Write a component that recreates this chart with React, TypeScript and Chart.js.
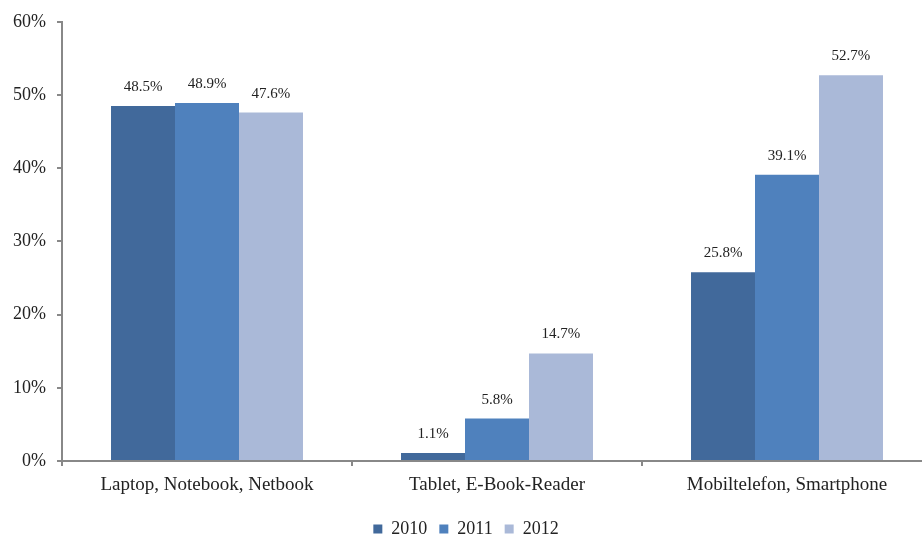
import React, { useEffect, useRef } from "react";
import { Chart, registerables } from "chart.js";

Chart.register(...registerables);

const categories = ["Laptop, Notebook, Netbook", "Tablet, E-Book-Reader", "Mobiltelefon, Smartphone"];
const seriesNames = ["2010", "2011", "2012"];
const values2010 = [48.5, 1.1, 25.8];
const values2011 = [48.9, 5.8, 39.1];
const values2012 = [47.6, 14.7, 52.7];
const colors = ["#41699b", "#4f81bd", "#aab9d8"];
const yTicks = [0, 10, 20, 30, 40, 50, 60];

const FONT = "'Liberation Serif', 'DejaVu Serif', serif";

const valueLabels = {
  id: "valueLabels",
  afterDatasetsDraw(chart: any) {
    const ctx = chart.ctx;
    ctx.save();
    ctx.font = `15px ${FONT}`;
    ctx.fillStyle = "#222";
    ctx.textAlign = "center";
    ctx.textBaseline = "alphabetic";
    chart.data.datasets.forEach((ds: any, i: number) => {
      const meta = chart.getDatasetMeta(i);
      meta.data.forEach((bar: any, j: number) => {
        ctx.fillText(ds.data[j].toFixed(1) + "%", bar.x, bar.y - 15);
      });
    });
    ctx.restore();
  },
};

export default function App() {
  const ref = useRef<HTMLCanvasElement>(null);
  useEffect(() => {
    const chart = new Chart(ref.current!, {
      type: "bar",
      data: {
        labels: categories,
        datasets: [values2010, values2011, values2012].map((d, i) => ({
          label: seriesNames[i],
          data: d,
          backgroundColor: colors[i],
          borderWidth: 0,
          categoryPercentage: 0.662,
          barPercentage: 1,
        })),
      },
      options: {
        animation: false,
        responsive: true,
        maintainAspectRatio: false,
        layout: { padding: { top: 20, right: 2, left: 0, bottom: 0 } },
        plugins: {
          tooltip: { enabled: false },
          legend: {
            position: "bottom",
            labels: {
              boxWidth: 9,
              boxHeight: 9,
              padding: 12,
              color: "#222",
              font: { family: FONT, size: 18 },
            },
          },
        },
        scales: {
          x: {
            grid: {
              display: true,
              drawOnChartArea: false,
              drawTicks: true,
              tickLength: 5,
              color: "#888",
              lineWidth: 2,
            },
            border: { color: "#888", width: 2 },
            ticks: { color: "#222", font: { family: FONT, size: 19 }, padding: 8, maxRotation: 0 },
            afterFit: (s: any) => { s.height = 47; },
          },
          y: {
            min: 0,
            max: 60,
            afterBuildTicks: (s: any) => { s.ticks = yTicks.map((v) => ({ value: v })); },
            grid: {
              display: true,
              drawOnChartArea: false,
              drawTicks: true,
              tickLength: 5,
              color: "#888",
              lineWidth: 2,
            },
            border: { color: "#888", width: 2 },
            ticks: {
              color: "#222",
              font: { family: FONT, size: 18 },
              padding: 11,
              callback: (v: any) => v + "%",
            },
            afterFit: (s: any) => { s.width = 62; },
          },
        },
      },
      plugins: [valueLabels],
    });
    return () => chart.destroy();
  }, []);
  return (
    <div style={{ position: "absolute", left: 0, top: 0, width: 922, height: 537, overflow: "hidden" }}>
      <div style={{ position: "relative", width: 934, height: 548 }}>
        <canvas ref={ref} />
      </div>
    </div>
  );
}
